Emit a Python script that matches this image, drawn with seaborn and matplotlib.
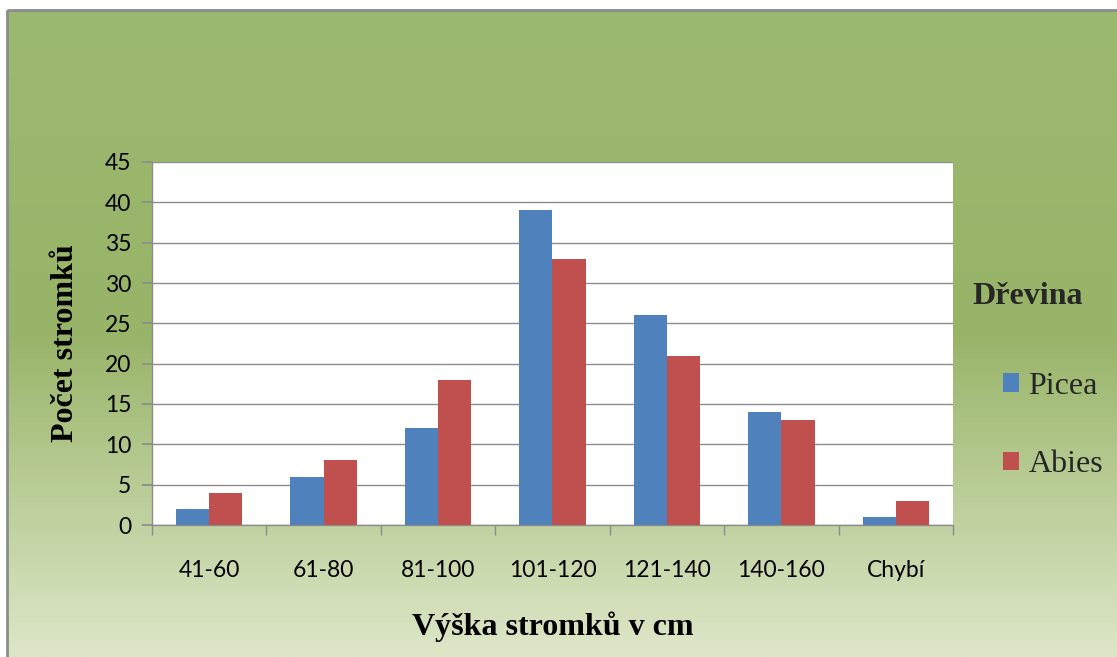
import numpy as np
import pandas as pd
import seaborn as sns
import matplotlib.pyplot as plt
from matplotlib.colors import LinearSegmentedColormap
from matplotlib.patches import Rectangle
from matplotlib.ticker import FixedLocator

# data
categories = ["41-60", "61-80", "81-100", "101-120", "121-140", "140-160", "Chybí"]
picea = [2, 6, 12, 39, 26, 14, 1]
abies = [4, 8, 18, 33, 21, 13, 3]
species = ["Picea", "Abies"]
colors = ["#4F81BD", "#C0504D"]

df = pd.DataFrame({
    "kategorie": categories * 2,
    "pocet": picea + abies,
    "drevina": [species[0]] * len(categories) + [species[1]] * len(categories),
})

sns.set_theme(style="white")
plt.rcParams["font.family"] = ["Lato", "DejaVu Sans"]

W, H = 1117, 657
fig = plt.figure(figsize=(W / 100, H / 100), dpi=100)
fig.patch.set_facecolor("white")

# green gradient background with grey frame
bg = fig.add_axes([0, 0, 1, 1], zorder=-10)
bg.set_xlim(0, W)
bg.set_ylim(H, 0)
bg.axis("off")
cmap = LinearSegmentedColormap.from_list(
    "bg", [(0.0, "#9CB970"), (0.5, "#98B468"), (1.0, "#DDE7C8")])
grad = np.linspace(0, 1, 256).reshape(-1, 1)
bg.imshow(grad, cmap=cmap, aspect="auto", extent=[7, W, H, 10])
bg.add_patch(Rectangle((7, 10), 1115, 655, fill=False, edgecolor="#8C8C8C", lw=2))

ax = fig.add_axes([152 / W, 1 - 525 / H, 801 / W, 363 / H])
sns.barplot(data=df, x="kategorie", y="pocet", hue="drevina", palette=colors,
            width=0.58, gap=0, saturation=1, linewidth=0, ax=ax, zorder=3)
ax.set_facecolor("white")
ax.set_ylim(0, 45)
ax.set_xlim(-0.5, len(categories) - 0.5)
ax.set_yticks(range(0, 46, 5))
ax.yaxis.grid(True, color="#8C8C8C", lw=1)
ax.set_axisbelow(True)

for s in ["top", "right"]:
    ax.spines[s].set_visible(False)
for s in ["left", "bottom"]:
    ax.spines[s].set_color("#8C8C8C")
    ax.spines[s].set_linewidth(1)

ax.tick_params(axis="y", left=True, length=7, color="#8C8C8C", labelsize=16.5,
               labelcolor="black", pad=8)
ax.tick_params(axis="x", which="major", bottom=False, labelsize=16.5,
               labelcolor="black", pad=19)
ax.xaxis.set_minor_locator(FixedLocator(np.arange(-0.5, len(categories), 1)))
ax.tick_params(axis="x", which="minor", bottom=True, length=7, color="#8C8C8C")

ax.set_xlabel("Výška stromků v cm", family="Liberation Serif", weight="bold",
              fontsize=23, color="black", labelpad=22)
ax.set_ylabel("Počet stromků", family="Liberation Serif", weight="bold",
              fontsize=23, color="black", labelpad=18)

# legend: title as separate text, entries below it
ax.get_legend().remove()
handles, labels = ax.get_legend_handles_labels()
fig.text(972 / W, 1 - 296 / H, "Dřevina", family="Liberation Serif",
         weight="bold", fontsize=23, va="center", ha="left")
fig.legend(handles, labels, loc="center left",
           bbox_to_anchor=(1003 / W, 1 - 425.5 / H), bbox_transform=fig.transFigure,
           frameon=False, prop={"family": "Liberation Serif", "size": 23},
           handlelength=0.5, handleheight=0.5, handletextpad=0.3,
           labelspacing=1.55, borderpad=0, borderaxespad=0)

fig.savefig("out.png", dpi=100)
